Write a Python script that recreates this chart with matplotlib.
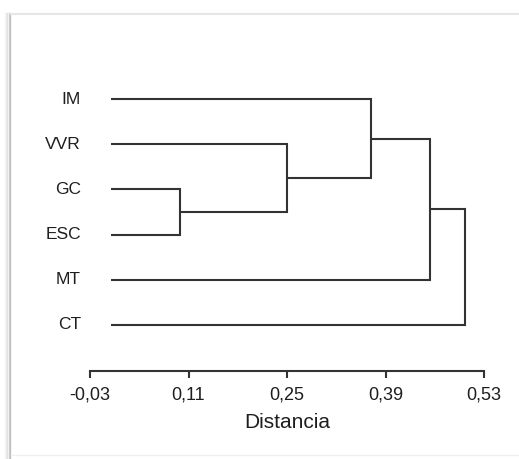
import matplotlib
matplotlib.use("Agg")
import matplotlib.pyplot as plt
from matplotlib.lines import Line2D

plt.rcParams['font.family'] = ['Liberation Sans', 'DejaVu Sans']

# Leaves, top to bottom
labels = ["IM", "VVR", "GC", "ESC", "MT", "CT"]
leaf_height = 0.0
# Merges: (left cluster, right cluster, distance)
merges = [
    ("GC", "ESC", 0.098),
    ("VVR", "GC+ESC", 0.25),
    ("IM", "VVR+GC+ESC", 0.369),
    ("IM+VVR+GC+ESC", "MT", 0.453),
    ("IM+VVR+GC+ESC+MT", "CT", 0.503),
]
xticks = [-0.03, 0.11, 0.25, 0.39, 0.53]
xticklabels = ["-0,03", "0,11", "0,25", "0,39", "0,53"]
xlabel = "Distancia"

W, H = 519, 459
fig = plt.figure(figsize=(W / 100, H / 100), dpi=100)
fig.patch.set_facecolor("white")

# Frame shadow (screenshot border)
for i, a in enumerate([0.06, 0.12, 0.22, 0.35, 0.5]):
    fig.add_artist(Line2D([(5 + i * 1.2) / W] * 2, [0, 1 - 13 / H],
                          transform=fig.transFigure, color="#888888", alpha=a, lw=1))
fig.add_artist(Line2D([11 / W, 1], [1 - 13.5 / H] * 2, transform=fig.transFigure,
                      color="#e6e6e6", lw=1.5))
fig.add_artist(Line2D([11 / W, 1], [1 - 455 / H] * 2, transform=fig.transFigure,
                      color="#f0f0f0", lw=1))

ax_left, ax_right = 90, 484
ax_top, ax_bot = 90, 371
ax = fig.add_axes([ax_left / W, 1 - ax_bot / H, (ax_right - ax_left) / W, (ax_bot - ax_top) / H])
ax.set_xlim(-0.03, 0.53)
ax.set_ylim(5 + 46 / 45, -9 / 45)

lc = "#333333"
lw = 1.5
tc = "#1e1e1e"
pos = {lab: (leaf_height, i) for i, lab in enumerate(labels)}
for a, b, d in merges:
    xa, ya = pos[a]
    xb, yb = pos[b]
    ax.plot([xa, d], [ya, ya], color=lc, lw=lw, solid_capstyle="butt")
    ax.plot([xb, d], [yb, yb], color=lc, lw=lw, solid_capstyle="butt")
    ax.plot([d, d], [ya, yb], color=lc, lw=lw, solid_capstyle="projecting")
    pos[a + "+" + b] = (d, (ya + yb) / 2)

for i, lab in enumerate(labels):
    ax.annotate(lab, xy=(-0.03, i), xycoords="data", xytext=(-9, 0),
                textcoords="offset pixels", ha="right", va="center",
                fontsize=12.5, color=tc)

for s in ["top", "right", "left"]:
    ax.spines[s].set_visible(False)
ax.spines["bottom"].set_color(lc)
ax.spines["bottom"].set_linewidth(1.5)
ax.set_yticks([])
ax.set_xticks(xticks)
ax.set_xticklabels(xticklabels, fontsize=13, color=tc)
ax.tick_params(axis="x", length=5, width=1.5, color=lc, pad=6)
ax.set_xlabel(xlabel, fontsize=15, color=tc, labelpad=7)

fig.savefig("out.png", dpi=100, facecolor="white")
